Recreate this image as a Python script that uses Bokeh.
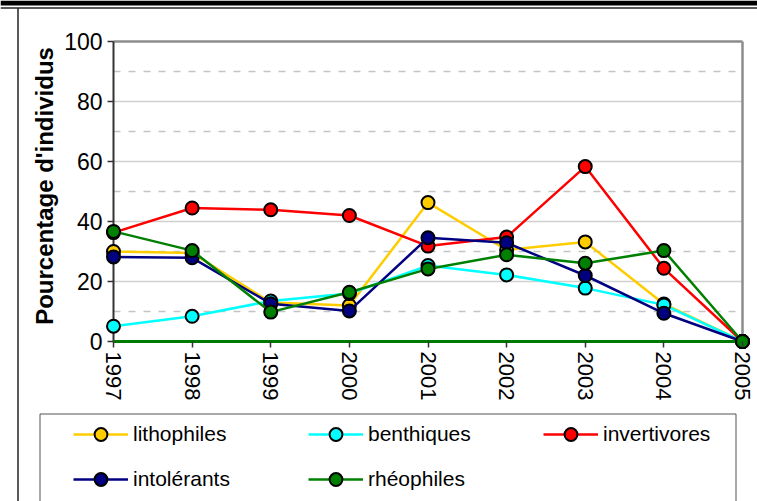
from bokeh.plotting import figure
from bokeh.models import Range1d, LinearAxis, FixedTicker, Legend, LegendItem
from bokeh.embed import file_html
from bokeh.resources import INLINE

# ---- data ----
years = [1997, 1998, 1999, 2000, 2001, 2002, 2003, 2004, 2005]
lithophiles = [30.0, 29.5, 13.0, 12.0, 46.3, 30.5, 33.2, 12.5, 0.0]
benthiques = [5.1, 8.4, 13.5, 16.0, 25.3, 22.2, 17.8, 12.2, 0.0]
invertivores = [36.3, 44.5, 43.9, 42.0, 31.8, 34.8, 58.3, 24.4, 0.0]
intolerants = [28.2, 27.9, 12.6, 10.2, 34.6, 32.9, 22.0, 9.4, 0.0]
rheophiles = [36.7, 30.3, 9.8, 16.4, 24.2, 28.9, 26.1, 30.3, 0.0]
series_names = ["lithophiles", "benthiques", "invertivores", "intolérants", "rhéophiles"]
series_values = [lithophiles, benthiques, invertivores, intolerants, rheophiles]
series_colors = ["#FFCC00", "#00FFFF", "#FF0000", "#000080", "#008000"]
y_major = [0, 20, 40, 60, 80, 100]
y_minor = [10, 30, 50, 70, 90]

# ---- geometry (canvas pixels) ----
W, H = 757, 501
X0_PX, X1_PX = 113, 742      # 1997 and 2005
Y100_PX, Y0_PX = 41, 341     # 100 and 0
xs = (X1_PX - X0_PX) / (years[-1] - years[0])
ys = (Y0_PX - Y100_PX) / 100.0
x_start = years[0] - X0_PX / xs
x_end = years[-1] + (W - X1_PX) / xs
y_end = 100 + Y100_PX / ys
y_start = -(H - Y0_PX) / ys

def px_to_x(px):
    return years[0] + (px - X0_PX) / xs

def px_to_y(py):
    return (Y0_PX - py) / ys

p = figure(width=W, height=H, x_range=Range1d(x_start, x_end), y_range=Range1d(y_start, y_end),
           x_axis_location=None, y_axis_location=None, toolbar_location=None,
           output_backend="svg", min_border=0)
p.outline_line_color = None
p.grid.visible = False
p.background_fill_color = "white"

FONT = "Liberation Sans"

# top black bar and outer frame
p.quad(left=[x_start], right=[x_end], top=[y_end], bottom=[px_to_y(5)],
       fill_color="black", line_color=None)
p.segment(x0=[x_start], x1=[x_end], y0=[px_to_y(7.5)], y1=[px_to_y(7.5)], line_color="#222222", line_width=1.5)
p.segment(x0=[px_to_x(17.5)], x1=[px_to_x(17.5)], y0=[y_start], y1=[px_to_y(7.5)], line_color="#222222", line_width=1.5)

# gridlines
p.segment(x0=[years[0]] * len(y_minor), x1=[years[-1]] * len(y_minor), y0=y_minor, y1=y_minor,
          line_color="#c4c4c4", line_width=1.5, line_dash="7 8")
p.segment(x0=[years[0]] * 4, x1=[years[-1]] * 4, y0=y_major[1:5], y1=y_major[1:5],
          line_color="#d0d0d0", line_width=1.5)
# plot area border (top / right)
p.segment(x0=[years[0], years[-1]], x1=[years[-1], years[-1]], y0=[100, 0], y1=[100, 100],
          line_color="#8c8c8c", line_width=2.5)
# axis lines
p.segment(x0=[years[0]], x1=[years[0]], y0=[0], y1=[100], line_color="#333333", line_width=2)
p.segment(x0=[years[0]], x1=[years[-1]], y0=[0], y1=[0], line_color="#007a00", line_width=3)

# axes
yax = LinearAxis(fixed_location=years[0], ticker=FixedTicker(ticks=y_major), bounds=(0, 103.6),
                 axis_label="Pourcentage d'individus")
yax.axis_line_color = None
yax.major_tick_out = 6
yax.major_tick_in = 0
yax.minor_tick_out = 0
yax.minor_tick_in = 0
yax.major_tick_line_color = "#333333"
yax.major_tick_line_width = 1.5
yax.major_label_text_font = FONT
yax.major_label_text_font_size = "23px"
yax.major_label_text_color = "black"
yax.major_label_standoff = 5
yax.axis_label_text_font = FONT
yax.axis_label_text_font_style = "bold"
yax.axis_label_text_font_size = "24px"
yax.axis_label_text_color = "black"
yax.axis_label_standoff = 3
p.add_layout(yax, "left")

xax = LinearAxis(fixed_location=0, ticker=FixedTicker(ticks=years), bounds=(years[0], years[-1]),
                 major_label_orientation="vertical")
xax.axis_line_color = None
xax.major_tick_out = 6
xax.major_tick_in = 0
xax.minor_tick_out = 0
xax.minor_tick_in = 0
xax.major_tick_line_color = "#333333"
xax.major_tick_line_width = 1.5
xax.major_label_text_font = FONT
xax.major_label_text_font_size = "22px"
xax.major_label_text_color = "black"
xax.major_label_standoff = 4
p.add_layout(xax, "below")

# series
items = []
for name, vals, col in zip(series_names, series_values, series_colors):
    lr = p.line(years, vals, line_color=col, line_width=2.5)
    sr = p.scatter(years, vals, marker="circle", size=13, fill_color=col,
                   line_color="black", line_width=2)
    items.append(LegendItem(label=name, renderers=[lr, sr]))

# legend box
p.quad(left=[px_to_x(39.5)], right=[px_to_x(735.5)], top=[px_to_y(413.5)], bottom=[y_start - 5],
       fill_color=None, line_color="#555555", line_width=1)

legend = Legend(items=items, location=(73, 6), orientation="horizontal", ncols=3,
                glyph_width=55, glyph_height=32, label_standoff=5, label_width=162,
                label_height=20, spacing=13, padding=0, margin=0,
                border_line_color=None, background_fill_alpha=0,
                label_text_font=FONT, label_text_font_size="21px", label_text_color="black")
p.add_layout(legend, "center")

open("out.html", "w").write(file_html(p, INLINE))
